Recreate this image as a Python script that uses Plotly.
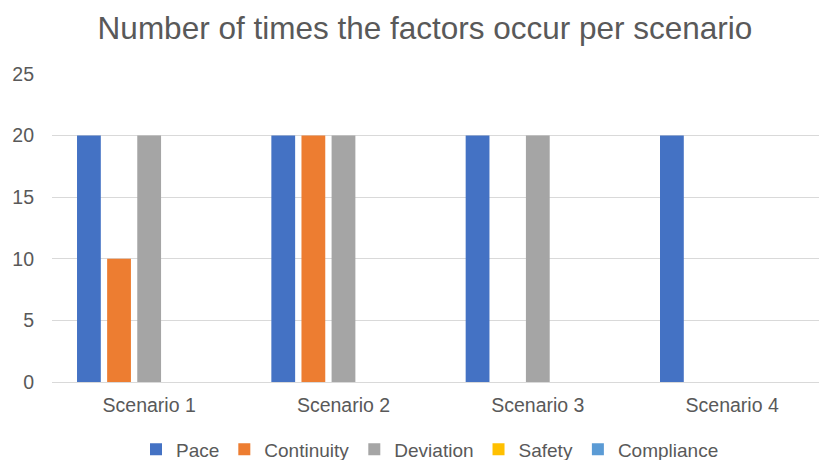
import plotly.graph_objects as go

categories = ["Scenario 1", "Scenario 2", "Scenario 3", "Scenario 4"]
series_names = ["Pace", "Continuity", "Deviation", "Safety", "Compliance"]
pace = [20, 20, 20, 20]
continuity = [10, 20, 0, 0]
deviation = [20, 20, 20, 0]
safety = [0, 0, 0, 0]
compliance = [0, 0, 0, 0]
y_ticks = [0, 5, 10, 15, 20, 25]

values = [pace, continuity, deviation, safety, compliance]
colors = ["#4472C4", "#ED7D31", "#A5A5A5", "#FFC000", "#5B9BD5"]

font_family = "Liberation Sans, Arial, sans-serif"
text_color = "#595959"
grid_color = "#D9D9D9"

fig = go.Figure()
for name, vals, col in zip(series_names, values, colors):
    fig.add_trace(go.Bar(x=categories, y=vals, name=name, marker=dict(color=col, line=dict(width=0))))

plot_top, plot_bottom = 74, 381.7
plot_h = plot_bottom - plot_top

fig.update_layout(
    width=819, height=460,
    paper_bgcolor="white", plot_bgcolor="white",
    barmode="group", bargap=0.225, bargroupgap=0.21,
    margin=dict(l=52, r=0, t=plot_top, b=460 - plot_bottom, autoexpand=False),
    title=dict(text="Number of times the factors occur per scenario",
               font=dict(family=font_family, size=31.5, color=text_color),
               x=425/819, xref="container", xanchor="center",
               y=1 - 28/460, yref="container", yanchor="middle", automargin=False),
    font=dict(family=font_family, color=text_color),
    legend=dict(orientation="h", x=(430 - 52) / 767, xanchor="center",
                y=(plot_bottom - 449) / plot_h, yanchor="middle",
                font=dict(family=font_family, size=19, color=text_color),
                itemwidth=30, traceorder="normal"),
    showlegend=True,
)
fig.update_xaxes(type="category", range=[-0.5, 3.447], automargin=False,
                 showgrid=False, showline=True, linecolor=grid_color, linewidth=1,
                 ticks="", ticklabelstandoff=6,
                 tickfont=dict(family=font_family, size=19.5, color=text_color))
fig.update_yaxes(range=[0, 25], tickvals=y_ticks, showgrid=True, gridcolor=grid_color, gridwidth=1,
                 automargin=False, zeroline=False, showline=False, ticks="", ticklabelstandoff=17,
                 tickfont=dict(family=font_family, size=19.5, color=text_color))

fig.write_html("out.html", config={"displayModeBar": False},
               post_script="document.body.style.margin='0';")
